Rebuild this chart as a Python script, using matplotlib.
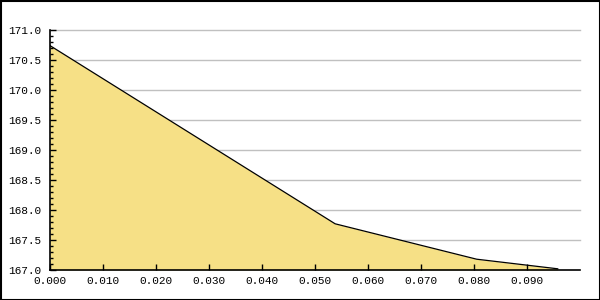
import matplotlib.pyplot as plt
from matplotlib.patches import Rectangle
from matplotlib.ticker import MultipleLocator, FormatStrFormatter

# values
x_vals = [0.0, 0.0538, 0.0805, 0.0958]
y_vals = [170.74, 167.77, 167.18, 167.02]

x_ticks = [0.0, 0.01, 0.02, 0.03, 0.04, 0.05, 0.06, 0.07, 0.08, 0.09]
y_grid = [167.5, 168.0, 168.5, 169.0, 169.5, 170.0, 170.5, 171.0]
y_min, y_max = 167.0, 171.0

plt.rcParams['font.family'] = ['Liberation Mono', 'DejaVu Sans Mono']

fig = plt.figure(figsize=(6, 3), dpi=100)
ax = fig.add_axes([50/600, 30/300, 530/600, 240/300])

# grid behind the area, ticks in front of it
for g in y_grid:
    ax.axhline(g, color='#c0c0c0', lw=1, zorder=1, clip_on=False)
ax.fill_between(x_vals, y_vals, y_min, color='#f6e086', lw=0, zorder=2)
ax.plot(x_vals, y_vals, color='black', lw=0.9, zorder=3)

ax.set_xlim(0, 0.1)
ax.set_ylim(y_min, y_max)
ax.set_xticks(x_ticks)
ax.xaxis.set_major_formatter(FormatStrFormatter('%.3f'))
ax.yaxis.set_major_locator(MultipleLocator(0.5))
ax.yaxis.set_minor_locator(MultipleLocator(0.1))
ax.yaxis.set_major_formatter(FormatStrFormatter('%.1f'))
ax.set_axisbelow(False)

for s in ['top', 'right']:
    ax.spines[s].set_visible(False)
for s in ['left', 'bottom']:
    ax.spines[s].set_linewidth(1.2)

ax.tick_params(axis='both', which='major', direction='in', length=4, width=1,
               labelsize=8, pad=6)
ax.tick_params(axis='y', which='minor', direction='in', length=2.5, width=1)
ax.tick_params(axis='x', pad=4)

# outer frame
fig.patches.append(Rectangle((0.5/600, 0.5/300), 599/600, 299/300, transform=fig.transFigure,
                             fill=False, edgecolor='black', lw=1.5))

fig.savefig('out.png', dpi=100)
